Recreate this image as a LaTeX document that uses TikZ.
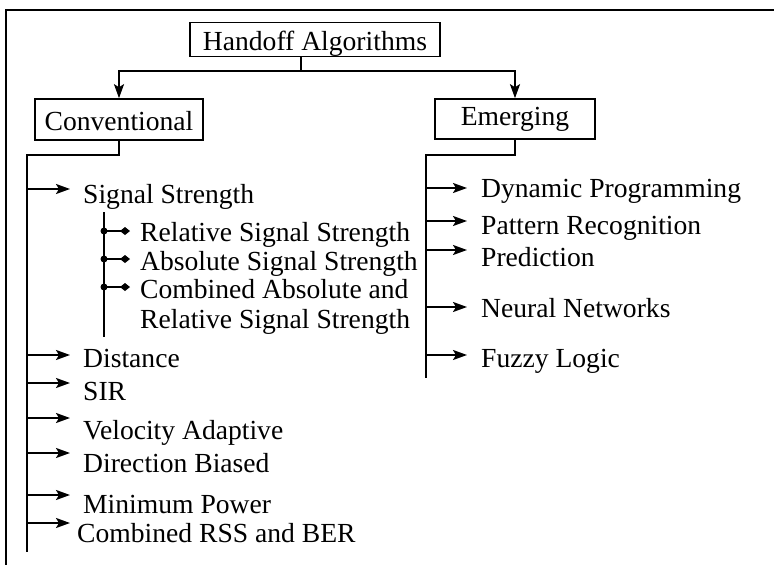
\documentclass[tikz,border=0pt]{standalone}
\usepackage{fontspec}
\setmainfont{Liberation Serif}
\usetikzlibrary{arrows.meta}
\begin{document}
\begin{tikzpicture}[x=1pt,y=-1pt,
  every node/.style={font=\fontsize{27.6}{30}\selectfont},
  box/.style={draw,line width=1.6pt,inner sep=0pt,text depth=0pt},
  lbl/.style={inner sep=0pt,anchor=base west},
  wire/.style={line width=2pt},
  arr/.style={wire,-{Stealth[length=14pt,width=10pt,inset=3pt]}},
  subarr/.style={wire,-{Diamond[length=10pt,width=8pt]}},
  frame/.style={line width=2.6pt}]
\useasboundingbox (0,0) rectangle (774,565);

% frame
\draw[frame] (6,565) -- (6,10) -- (774,10);

% boxes
\node[box,minimum width=250pt,minimum height=34pt,text height=21pt] (hand) at (315,39.5) {Handoff Algorithms};
\node[box,minimum width=168pt,minimum height=41pt,text height=21pt] (conv) at (119,119.5) {Conventional};
\node[box,minimum width=160pt,minimum height=40pt,text height=13pt] (emer) at (515,119) {Emerging};

% top split
\coordinate (split) at (301,71);
\draw[wire] (hand.south -| split) -- (split);
\draw[arr] (split) -| (conv.north);
\draw[arr] (split) -| (emer.north);

% conventional trunk
\coordinate (ctop) at (27,155);
\coordinate (cbot) at (27,552);
\draw[wire] (conv.south) |- (ctop) -- (cbot);

% emerging trunk
\coordinate (etop) at (426,155);
\coordinate (ebot) at (426,378);
\draw[wire] (emer.south) |- (etop) -- (ebot);

% conventional items: arrow y / baseline y / text x / name / text
\foreach \ay/\by/\tx/\nm/\txt in {
   189/203/83/sig/Signal Strength,
   355/367/83/dist/Distance,
   383/400/83/sir/SIR,
   418/439/83/vel/Velocity Adaptive,
   453/472/83/dir/Direction Biased,
   495/513/83/minp/Minimum Power,
   523/542/77/rss/Combined RSS and BER}{
  \node[lbl] (\nm) at (\tx,\by) {\txt};
  \draw[arr] (ctop |- 0,\ay) -- (70,\ay);
}

% signal strength sub-items
\coordinate (stop) at (104,212);
\coordinate (sbot) at (104,337);
\draw[wire] (stop) -- (sbot);
\foreach \ay/\by/\nm/\txt in {
   231/241/rel/Relative Signal Strength,
   259/270/abs/Absolute Signal Strength,
   287/298/comb/Combined Absolute and}{
  \node[lbl] (\nm) at (140,\by) {\txt};
  \fill (stop |- 0,\ay) circle (3.5pt);
  \draw[subarr] (stop |- 0,\ay) -- (130,\ay);
}
\node[lbl] (comb2) at (140,328) {Relative Signal Strength};

% emerging items
\foreach \ay/\by/\nm/\txt in {
   188/197/dyn/Dynamic Programming,
   221/234/pat/Pattern Recognition,
   250/266/pred/Prediction,
   307/317/neur/Neural Networks,
   355/367/fuz/Fuzzy Logic}{
  \node[lbl] (\nm) at (481,\by) {\txt};
  \draw[arr] (etop |- 0,\ay) -- (467,\ay);
}
\end{tikzpicture}
\end{document}
